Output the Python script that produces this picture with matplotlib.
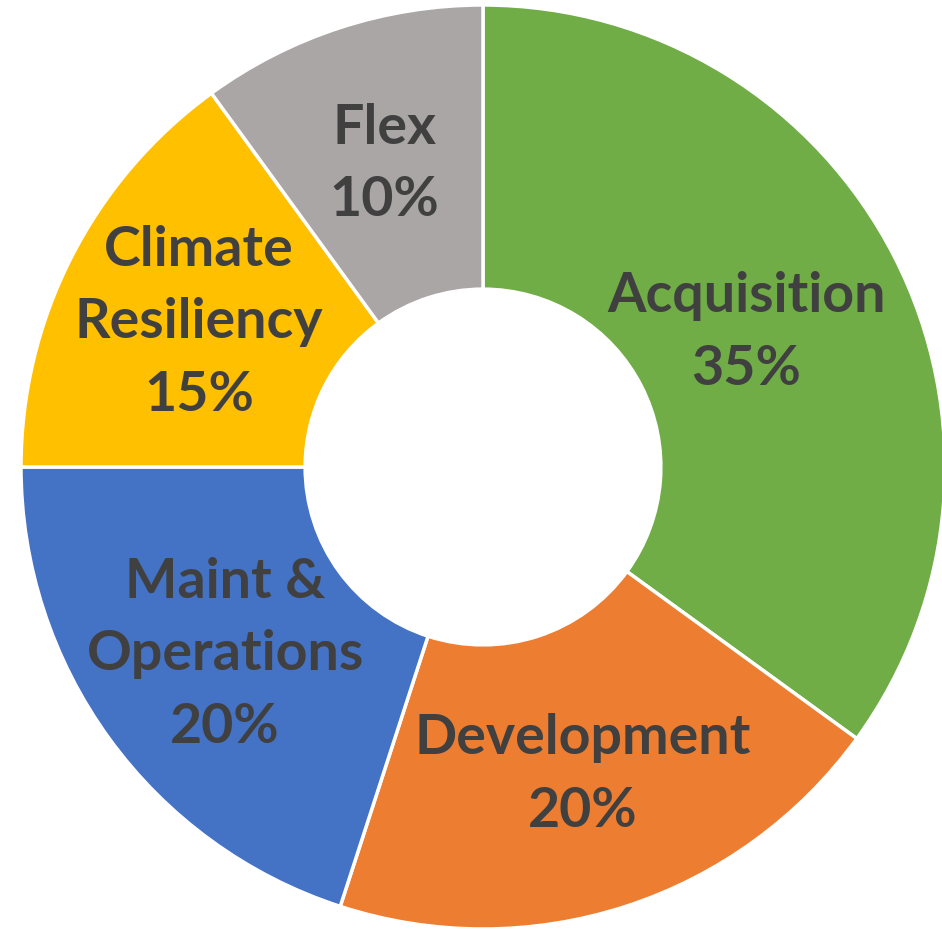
import matplotlib
matplotlib.use("Agg")
import matplotlib.pyplot as plt
import numpy as np

# data
categories = ["Acquisition", "Development", "Maint &\nOperations", "Climate\nResiliency", "Flex"]
shares = [35, 20, 20, 15, 10]
colors = ["#70AD47", "#ED7D31", "#4472C4", "#FFC000", "#A9A6A5"]

# label distance from centre (fraction of outer radius)
label_dist = [0.64, 0.70, 0.69, 0.69, 0.69]

fig = plt.figure(figsize=(9.42, 9.31), dpi=100)
ax = fig.add_axes([21 / 942, 2 / 931, 924 / 942, 924 / 931])

wedges, _ = ax.pie(shares, colors=colors, startangle=90, counterclock=False,
                   radius=1, wedgeprops=dict(width=0.615, edgecolor="white", linewidth=2.5))

for w, cat, val, d in zip(wedges, categories, shares, label_dist):
    ang = np.deg2rad((w.theta1 + w.theta2) / 2)
    ax.text(d * np.cos(ang), d * np.sin(ang), f"{cat}\n{val}%",
            ha="center", va="center", fontsize=40, fontweight="bold",
            family="Lato", color="#404040", linespacing=1.55)

ax.set_xlim(-1, 1)
ax.set_ylim(-1, 1)
ax.set_aspect("equal")
ax.axis("off")

fig.savefig("out.png", dpi=100)
